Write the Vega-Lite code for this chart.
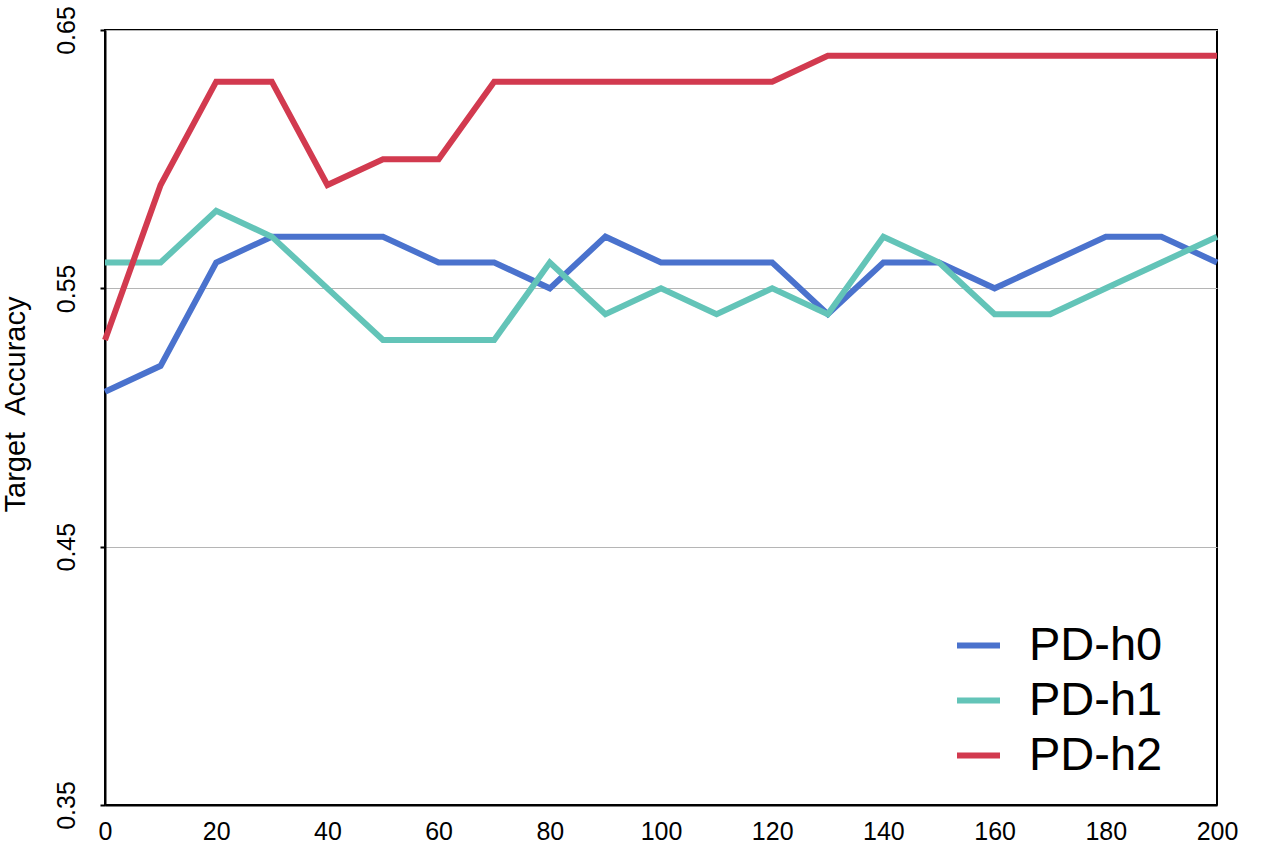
{
  "$schema": "https://vega.github.io/schema/vega-lite/v6.json",
  "autosize": {"type": "none"},
  "width": 1112,
  "height": 775,
  "padding": {"left": 105, "top": 30, "right": 49, "bottom": 41},
  "background": "white",
  "config": {
    "font": "Liberation Sans",
    "view": {"stroke": "black", "strokeWidth": 2}
  },
  "data": {
    "values": [
      {"x": 0, "s": "PD-h0", "y": 0.51}, {"x": 10, "s": "PD-h0", "y": 0.52}, {"x": 20, "s": "PD-h0", "y": 0.56}, {"x": 30, "s": "PD-h0", "y": 0.57}, {"x": 40, "s": "PD-h0", "y": 0.57}, {"x": 50, "s": "PD-h0", "y": 0.57}, {"x": 60, "s": "PD-h0", "y": 0.56}, {"x": 70, "s": "PD-h0", "y": 0.56}, {"x": 80, "s": "PD-h0", "y": 0.55}, {"x": 90, "s": "PD-h0", "y": 0.57}, {"x": 100, "s": "PD-h0", "y": 0.56}, {"x": 110, "s": "PD-h0", "y": 0.56}, {"x": 120, "s": "PD-h0", "y": 0.56}, {"x": 130, "s": "PD-h0", "y": 0.54}, {"x": 140, "s": "PD-h0", "y": 0.56}, {"x": 150, "s": "PD-h0", "y": 0.56}, {"x": 160, "s": "PD-h0", "y": 0.55}, {"x": 170, "s": "PD-h0", "y": 0.56}, {"x": 180, "s": "PD-h0", "y": 0.57}, {"x": 190, "s": "PD-h0", "y": 0.57}, {"x": 200, "s": "PD-h0", "y": 0.56},
      {"x": 0, "s": "PD-h1", "y": 0.56}, {"x": 10, "s": "PD-h1", "y": 0.56}, {"x": 20, "s": "PD-h1", "y": 0.58}, {"x": 30, "s": "PD-h1", "y": 0.57}, {"x": 40, "s": "PD-h1", "y": 0.55}, {"x": 50, "s": "PD-h1", "y": 0.53}, {"x": 60, "s": "PD-h1", "y": 0.53}, {"x": 70, "s": "PD-h1", "y": 0.53}, {"x": 80, "s": "PD-h1", "y": 0.56}, {"x": 90, "s": "PD-h1", "y": 0.54}, {"x": 100, "s": "PD-h1", "y": 0.55}, {"x": 110, "s": "PD-h1", "y": 0.54}, {"x": 120, "s": "PD-h1", "y": 0.55}, {"x": 130, "s": "PD-h1", "y": 0.54}, {"x": 140, "s": "PD-h1", "y": 0.57}, {"x": 150, "s": "PD-h1", "y": 0.56}, {"x": 160, "s": "PD-h1", "y": 0.54}, {"x": 170, "s": "PD-h1", "y": 0.54}, {"x": 180, "s": "PD-h1", "y": 0.55}, {"x": 190, "s": "PD-h1", "y": 0.56}, {"x": 200, "s": "PD-h1", "y": 0.57},
      {"x": 0, "s": "PD-h2", "y": 0.53}, {"x": 10, "s": "PD-h2", "y": 0.59}, {"x": 20, "s": "PD-h2", "y": 0.63}, {"x": 30, "s": "PD-h2", "y": 0.63}, {"x": 40, "s": "PD-h2", "y": 0.59}, {"x": 50, "s": "PD-h2", "y": 0.60}, {"x": 60, "s": "PD-h2", "y": 0.60}, {"x": 70, "s": "PD-h2", "y": 0.63}, {"x": 80, "s": "PD-h2", "y": 0.63}, {"x": 90, "s": "PD-h2", "y": 0.63}, {"x": 100, "s": "PD-h2", "y": 0.63}, {"x": 110, "s": "PD-h2", "y": 0.63}, {"x": 120, "s": "PD-h2", "y": 0.63}, {"x": 130, "s": "PD-h2", "y": 0.64}, {"x": 140, "s": "PD-h2", "y": 0.64}, {"x": 150, "s": "PD-h2", "y": 0.64}, {"x": 160, "s": "PD-h2", "y": 0.64}, {"x": 170, "s": "PD-h2", "y": 0.64}, {"x": 180, "s": "PD-h2", "y": 0.64}, {"x": 190, "s": "PD-h2", "y": 0.64}, {"x": 200, "s": "PD-h2", "y": 0.64}
    ]
  },
  "mark": {"type": "line", "strokeWidth": 6, "strokeJoin": "miter"},
  "encoding": {
    "x": {
      "field": "x", "type": "quantitative",
      "scale": {"domain": [0, 200], "nice": false},
      "axis": {
        "title": null, "values": [0, 20, 40, 60, 80, 100, 120, 140, 160, 180, 200],
        "grid": false, "ticks": false, "domainColor": "black", "domainWidth": 2,
        "labelFontSize": 25, "labelColor": "black", "labelPadding": 14, "labelFlush": false
      }
    },
    "y": {
      "field": "y", "type": "quantitative",
      "scale": {"domain": [0.35, 0.65], "nice": false, "zero": false},
      "axis": {
        "title": "Target \u00a0Accuracy", "titleFontSize": 29, "titleFontWeight": "normal", "titleColor": "black",
        "titleX": -81, "titleY": 374, "titleAngle": -90, "titleAlign": "center", "titleBaseline": "alphabetic",
        "values": [0.35, 0.45, 0.55, 0.65], "format": ".2f",
        "grid": true, "gridColor": "#b5b5b5", "gridWidth": 1,
        "ticks": true, "tickSize": 5, "tickWidth": 2, "tickColor": "black",
        "domainColor": "black", "domainWidth": 2,
        "labelFontSize": 25, "labelColor": "black", "labelAngle": -90, "labelAlign": "center", "labelBaseline": "alphabetic",
        "labelPadding": 26, "labelFlush": false
      }
    },
    "color": {
      "field": "s", "type": "nominal",
      "scale": {"domain": ["PD-h0", "PD-h1", "PD-h2"], "range": ["#4a72cd", "#63c4b8", "#d23a4f"]},
      "legend": {
        "title": null, "orient": "none", "legendX": 849, "legendY": 591,
        "symbolType": "stroke", "symbolSize": 1849, "symbolStrokeWidth": 6,
        "labelFontSize": 47, "labelColor": "black", "labelOffset": 26, "rowPadding": 7, "padding": 0
      }
    }
  }
}
